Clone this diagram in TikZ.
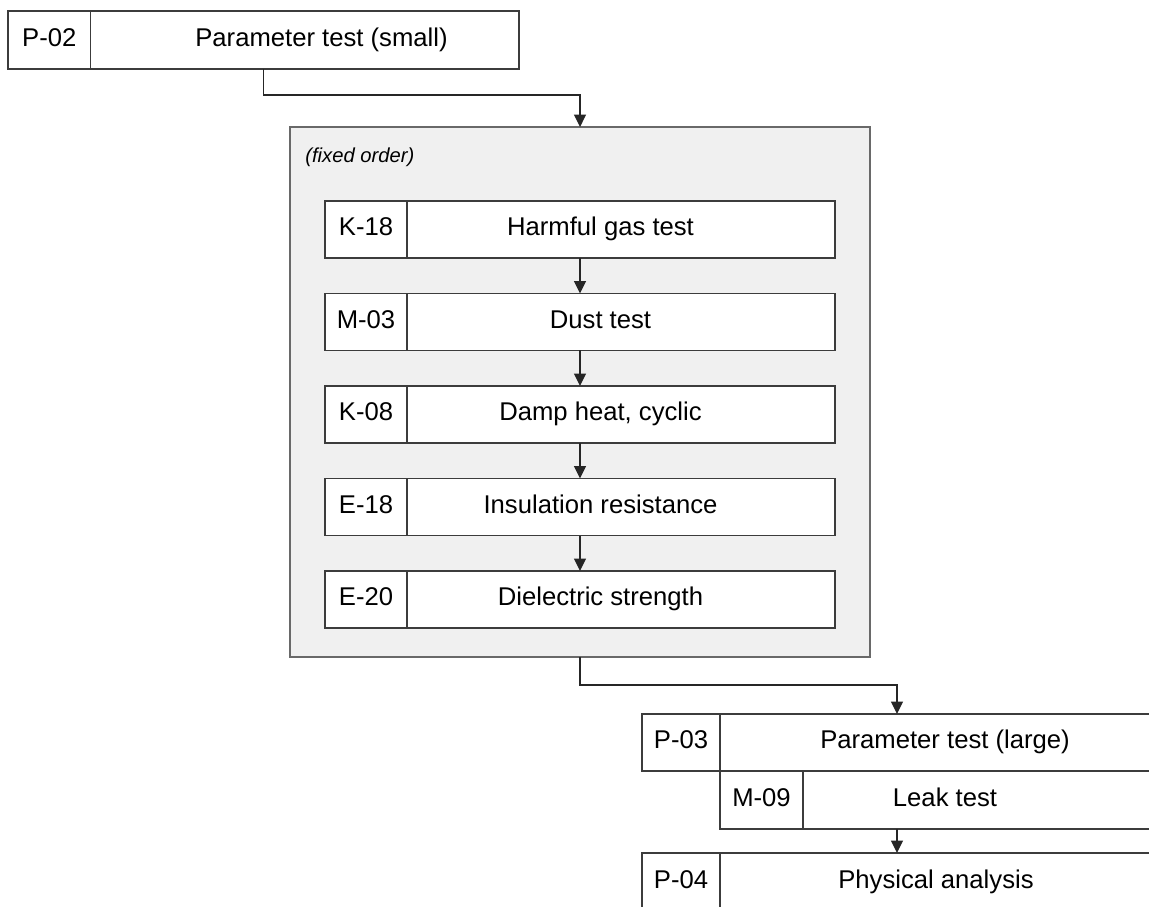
\documentclass[tikz,border=0pt]{standalone}
\usepackage{fontspec}
\setmainfont{Liberation Sans}
\usetikzlibrary{arrows.meta,positioning}
\definecolor{frame}{RGB}{60,60,60}
\definecolor{groupfill}{RGB}{240,240,240}
\definecolor{groupline}{RGB}{105,105,105}
\tikzset{
  >={Triangle[length=2.5mm,width=2.4mm]},
  stage/.style={draw=frame,fill=white,line width=0.85pt,inner sep=0pt,outer sep=0pt,
    minimum height=1.14cm,minimum width=10.2cm},
  idcell/.style={stage,anchor=west,minimum width=1.64cm,
    font=\fontsize{14.6}{17}\selectfont,text height=10.3pt,text depth=3pt},
  testname/.style={inner sep=0pt,font=\fontsize{14.6}{17}\selectfont,
    text height=10.3pt,text depth=3pt},
  group/.style={draw=groupline,fill=groupfill,line width=1pt,inner sep=0pt,outer sep=0pt},
  note/.style={inner sep=0pt,anchor=west,font=\fontsize{11.5}{14}\selectfont\itshape},
  flow/.style={->,draw=black!85,line width=0.85pt},
}

\begin{document}
\begin{tikzpicture}[x=0.02cm,y=-0.02cm]
  \useasboundingbox (0,0) rectangle (1149,906);
  \clip (0,0) rectangle (1149,906);
  % small parameter test
  \node[stage,minimum width=10.22cm,minimum height=1.16cm] (p02) at (263.5,40) {};
  \node[idcell,minimum width=1.65cm,minimum height=1.16cm] (p02id) at (p02.west) {P-02};
  \node[testname] (p02txt) at (321.5,40) {Parameter test (small)};
  % fixed order group
  \node[group,minimum width=11.6cm,minimum height=10.6cm] (fixed) at (580,392) {};
  \node[note] (fixednote) at (305,157) {(fixed order)};
  \node[stage] (k18) at (580,229.5) {};
  \node[idcell] (k18id) at (k18.west) {K-18};
  \node[testname] (k18txt) at (600.5,229.5) {Harmful gas test};
  \node[stage] (m03) at (580,322) {};
  \node[idcell] (m03id) at (m03.west) {M-03};
  \node[testname] (m03txt) at (600.5,322) {Dust test};
  \node[stage] (k08) at (580,414.5) {};
  \node[idcell] (k08id) at (k08.west) {K-08};
  \node[testname] (k08txt) at (600.5,414.5) {Damp heat, cyclic};
  \node[stage] (e18) at (580,507) {};
  \node[idcell] (e18id) at (e18.west) {E-18};
  \node[testname] (e18txt) at (600.5,507) {Insulation resistance};
  \node[stage] (e20) at (580,599.5) {};
  \node[idcell] (e20id) at (e20.west) {E-20};
  \node[testname] (e20txt) at (600.5,599.5) {Dielectric strength};
  % large parameter test and analysis
  \node[stage] (p03) at (897,742.5) {};
  \node[idcell,minimum width=1.56cm] (p03id) at (p03.west) {P-03};
  \node[testname] (p03txt) at (945,742.5) {Parameter test (large)};
  \node[stage,minimum width=8.64cm,minimum height=1.16cm] (m09) at (936,800) {};
  \node[idcell,minimum width=1.66cm,minimum height=1.16cm] (m09id) at (m09.west) {M-09};
  \node[testname] (m09txt) at (945,800) {Leak test};
  \node[stage,minimum height=1.16cm] (p04) at (897,882) {};
  \node[idcell,minimum width=1.56cm,minimum height=1.16cm] (p04id) at (p04.west) {P-04};
  \node[testname] (p04txt) at (936,882) {Physical analysis};
  % connectors
  \draw[flow] (p02.south) -- ++(0,26) -| (fixed.north);
  \draw[flow] (k18) -- (m03);
  \draw[flow] (m03) -- (k08);
  \draw[flow] (k08) -- (e18);
  \draw[flow] (e18) -- (e20);
  \draw[flow] (fixed.south) -- ++(0,28) -| (p03.north);
  \draw[flow] (m09.south -| p04.north) -- (p04.north);
\end{tikzpicture}
\end{document}
